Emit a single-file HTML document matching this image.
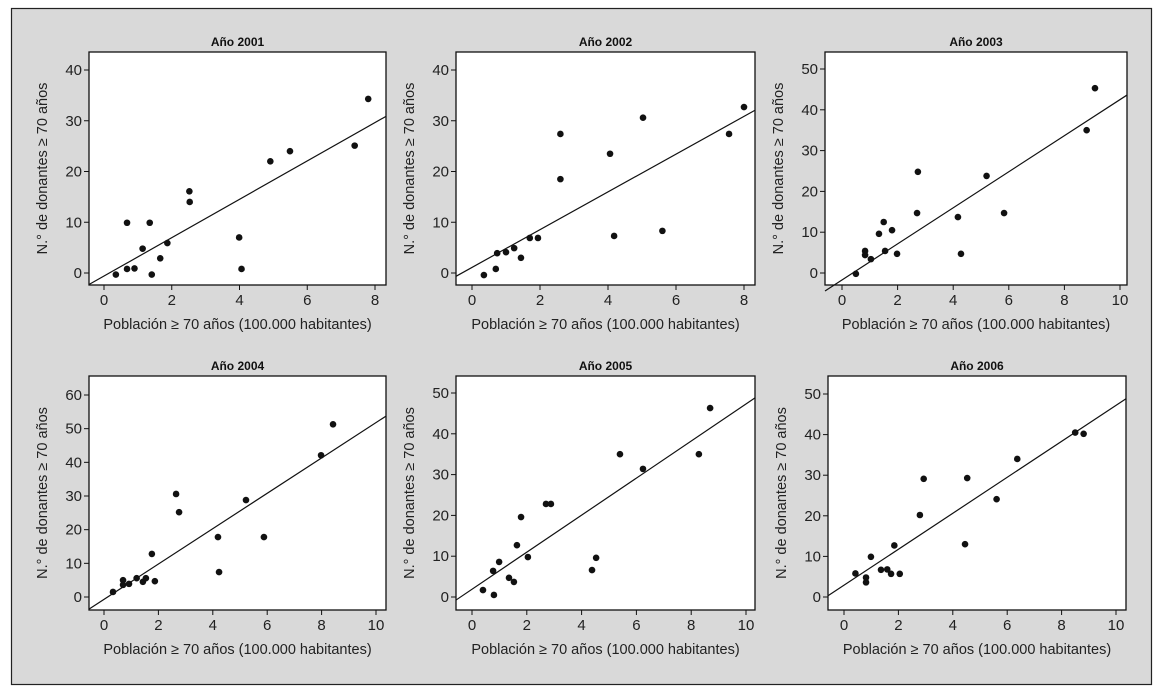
<!DOCTYPE html>
<html><head><meta charset="utf-8"><style>
body{margin:0;background:#fff;}
svg{display:block;font-family:"Liberation Sans",sans-serif;}
</style></head><body>
<svg id="c" width="1174" height="695">
<rect x="11.5" y="8.5" width="1140" height="676" fill="#d9d9d9" stroke="#222" stroke-width="1.2"/>
</svg>
<script>
const titles=["Año 2001","Año 2002","Año 2003","Año 2004","Año 2005","Año 2006"];
const xs2001=[0.35,0.68,0.9,0.68,1.35,1.14,1.41,1.66,1.87,2.52,2.53,3.99,4.06,4.91,5.49,7.4,7.8];
const ys2001=[-0.3,0.8,0.9,9.9,9.9,4.8,-0.3,2.9,5.9,16.1,14,7,0.8,22,24,25.1,34.3];
const xs2002=[0.35,0.7,0.74,1,1.24,1.44,1.7,1.94,2.6,2.6,4.06,4.18,5.03,5.6,7.56,8];
const ys2002=[-0.4,0.8,3.9,4.1,4.9,3,6.9,6.9,27.4,18.5,23.5,7.3,30.6,8.3,27.4,32.7];
const xs2003=[0.5,0.83,0.83,1.04,1.33,1.5,1.55,1.8,1.98,2.7,2.73,4.17,4.28,5.2,5.83,8.8,9.1];
const ys2003=[-0.2,5.4,4.4,3.4,9.6,12.5,5.4,10.5,4.7,14.7,24.8,13.7,4.7,23.8,14.7,35,45.3];
const xs2004=[0.33,0.7,0.7,0.92,1.2,1.43,1.54,1.76,1.87,2.65,2.76,4.19,4.23,5.22,5.88,7.98,8.42];
const ys2004=[1.5,5,3.6,3.9,5.6,4.5,5.6,12.8,4.7,30.6,25.2,17.8,7.4,28.8,17.8,42.1,51.3];
const xs2005=[0.4,0.77,0.8,0.99,1.35,1.53,1.64,1.79,2.04,2.7,2.88,4.38,4.53,5.4,6.24,8.28,8.69];
const ys2005=[1.7,6.4,0.5,8.6,4.7,3.7,12.7,19.6,9.8,22.8,22.8,6.6,9.6,35,31.4,35,46.3];
const xs2006=[0.42,0.81,0.81,0.99,1.36,1.59,1.73,1.85,2.05,2.79,2.93,4.45,4.53,5.61,6.37,8.5,8.81];
const ys2006=[5.8,4.8,3.6,9.9,6.7,6.8,5.7,12.7,5.7,20.2,29.1,13,29.3,24.1,34,40.5,40.2];
const intercepts=[-0.6,1.1,-1.7,-0.7,1.9,2.9];
const slopes=[3.78,3.72,4.42,5.25,4.54,4.43];
const xTicks=[[0,2,4,6,8],[0,2,4,6,8],[0,2,4,6,8,10],[0,2,4,6,8,10],[0,2,4,6,8,10],[0,2,4,6,8,10]];
const yTicks=[[0,10,20,30,40],[0,10,20,30,40],[0,10,20,30,40,50],[0,10,20,30,40,50,60],[0,10,20,30,40,50],[0,10,20,30,40,50]];
const xMax=[8,8,10,10,10,10];
const yMax=[40,40,50,60,50,50];
const XS=[xs2001,xs2002,xs2003,xs2004,xs2005,xs2006];
const YS=[ys2001,ys2002,ys2003,ys2004,ys2005,ys2006];
const boxes=[[89,52,386,285,104,375,273,70],[456,52,755,285,472,744,273,70],[825,52,1127,285,842,1120,273,69],
[89,376,386,610,104,376,597,395],[456,376,755,610,472,746,597,393],[828,376,1126,610,844,1116,597,394]];
const svg=document.getElementById('c');const NS="http://www.w3.org/2000/svg";
function mk(t,a,p){const e=document.createElementNS(NS,t);for(const k in a)e.setAttribute(k,a[k]);(p||svg).appendChild(e);return e;}
boxes.forEach((b,i)=>{
 const [x0,y0,x1,y1,ax0,ax1,ay0,ay1]=b;
 const g=mk('g',{});
 
 
 const sx=v=>ax0+(ax1-ax0)*v/xMax[i];
 const sy=v=>ay0+(ay1-ay0)*v/yMax[i];
 const bg=mk('rect',{x:x0,y:y0,width:x1-x0,height:y1-y0,fill:'#fff',stroke:'#111','stroke-width':1.3},g);
 
 
 const t=mk('text',{x:(x0+x1)/2,y:y0-6,'text-anchor':'middle','font-size':12,'font-weight':'bold',fill:'#111'},g);t.textContent=titles[i];
 
 
 xTicks[i].forEach(v=>{
  mk('line',{x1:sx(v),x2:sx(v),y1:y1,y2:y1+5,stroke:'#111'},g);
  const l=mk('text',{x:sx(v),y:y1+20,'text-anchor':'middle','font-size':15,fill:'#222'},g);l.textContent=v;
  
  
 });
 yTicks[i].forEach(v=>{
  mk('line',{x1:x0-5,x2:x0,y1:sy(v),y2:sy(v),stroke:'#111'},g);
  const l=mk('text',{x:x0-7,y:sy(v)+5,'text-anchor':'end','font-size':15,fill:'#222'},g);l.textContent=v;
  
  
 });
 const xl=mk('text',{x:(x0+x1)/2,y:y1+44,'text-anchor':'middle','font-size':14.5,fill:'#222'},g);xl.textContent='Población ≥ 70 años (100.000 habitantes)';
 
 
 const cy=(y0+y1)/2;
 const yl=mk('text',{x:x0-42,y:cy,'text-anchor':'middle','font-size':14.5,fill:'#222',transform:`rotate(-90 ${x0-42} ${cy})`},g);yl.textContent='N.° de donantes ≥ 70 años';
 
 
 const vx0=(x0-ax0)/(ax1-ax0)*xMax[i], vx1=(x1-ax0)/(ax1-ax0)*xMax[i];
 const ln=mk('line',{x1:x0,y1:sy(intercepts[i]+slopes[i]*vx0),x2:x1,y2:sy(intercepts[i]+slopes[i]*vx1),stroke:'#111','stroke-width':1.2},g);
 
 
 XS[i].forEach((v,j)=>{
  const c=mk('circle',{cx:sx(v),cy:sy(YS[i][j]),r:3.3,fill:'#111'},g);
  
  
 });
});
</script>
</body></html>
